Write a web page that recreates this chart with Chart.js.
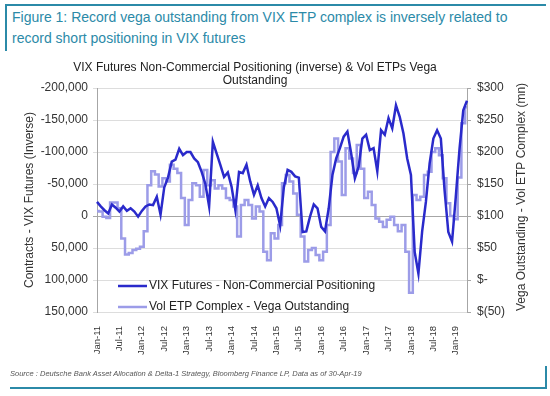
<!DOCTYPE html>
<html>
<head>
<meta charset="utf-8">
<script src="https://cdn.jsdelivr.net/npm/chart.js@4.4.1/dist/chart.umd.min.js"></script>
<style>
  body { margin: 0; background: #fff; font-family: "Liberation Sans", Arial, sans-serif; }
  #page { position: relative; width: 550px; height: 396px; overflow: hidden; }
  #c { position: absolute; left: 0; top: 0; }
  .teal { position: absolute; background: #2b8aa8; }
  .caption { position: absolute; left: 12px; top: 7px; color: #2b8aa8; font-size: 14px; line-height: 21px; }
  .source { position: absolute; left: 10px; top: 369px; color: #555; font-size: 7.5px; font-style: italic; }
</style>
</head>
<body>
<div id="page">
  <div class="teal" style="left:5px;top:4px;width:541px;height:2px"></div>
  <div class="teal" style="left:5px;top:4px;width:2px;height:47px"></div>
  <div class="caption">Figure 1: Record vega outstanding from VIX ETP complex is inversely related to<br>record short positioning in VIX futures</div>
  <canvas id="c" width="550" height="396"></canvas>
  <div class="source">Source : Deutsche Bank Asset Allocation &amp; Delta-1 Strategy, Bloomberg Finance LP, Data as of 30-Apr-19</div>
  <div class="teal" style="left:10px;top:387px;width:537px;height:2px"></div>
  <div class="teal" style="left:545px;top:366px;width:2px;height:23px"></div>
</div>
<script>
// monthly points, Jan-11 .. Apr-19
const monthNames = ['Jan', 'Feb', 'Mar', 'Apr', 'May', 'Jun', 'Jul', 'Aug', 'Sep', 'Oct', 'Nov', 'Dec'];
const years = ['11', '12', '13', '14', '15', '16', '17', '18', '19'];
const lastMonth = 3; // Apr-19

const labels = [];
years.forEach((yy, yi) => {
  monthNames.forEach((mm, mi) => {
    if (yi === years.length - 1 && mi > lastMonth) return;
    labels.push(mm + '-' + yy);
  });
});

// VIX futures non-commercial net positioning (contracts, shown inverted)
const vixPositioning = [
  -22000, -15000, -9000, -4000, -18000, -13000, -7000, -15000, -8000, -12000, -7000, 1000,
  -8000, -15000, -18000, -17000, -30000, -2000, -45000, -60000, -85000, -88000, -105000, -95000,
  -100000, -100000, -90000, -84000, -69000, -50000, -15000, -116000, -98000, -80000, -61000, -68000,
  -46000, -10000, -69000, -67000, -80000, -54000, -33000, -48000, -28000, -15000, -28000, -22000,
  -12000, 15000, -45000, -72000, -69000, -62000, -60000, 25000, 24000, 1000, -18000, -12000,
  17000, 24000, -12000, -64000, -90000, -106000, -124000, -132000, -98000, -59000, -77000, -121000,
  -127000, -103000, -106000, -70000, -134000, -127000, -153000, -137000, -173000, -155000, -129000, -90000,
  -64000, 56000, 90000, 24000, -22000, -82000, -121000, -134000, -121000, -40000, 25000, 40000,
  -30000, -105000, -165000, -180000
];

// Vol ETP complex vega outstanding ($mn)
const etpVega = [
  108, 107, 99, 97, 121, 121, 112, 65, 40, 42, 47, 49,
  52, 76, 148, 170, 165, 146, 159, 154, 180, 174, 167, 128,
  86, 125, 151, 148, 130, 172, 148, 156, 143, 148, 143, 128,
  125, 115, 68, 117, 125, 117, 96, 115, 107, 44, 31, 73,
  65, 86, 151, 164, 154, 135, 102, 68, 29, 47, 50, 39,
  31, 44, 86, 200, 221, 185, 133, 206, 190, 167, 211, 174,
  128, 138, 117, 96, 91, 83, 94, 99, 86, 76, 86, 44,
  -20, 133, 125, 130, 164, 169, 200, 206, 195, 159, 120, 100,
  95, 160, 245, 270
];

const seriesNames = ['VIX Futures - Non-Commercial Positioning', 'Vol ETP Complex - Vega Outstanding'];
const leftTicks = { min: -200000, max: 150000, step: 50000 };
const rightTicks = { min: -50, max: 300, step: 50 };
const chartTitle = ['VIX Futures Non-Commercial Positioning (inverse) & Vol ETPs Vega', 'Outstanding'];
const rightTitle = 'Vega Outstanding - Vol ETP Complex (mn)';

const FONT = '"Liberation Sans", Arial, sans-serif';
Chart.defaults.font.family = FONT;
Chart.defaults.color = '#333';

// title (centred on the whole figure, not the plot), legend inside the plot,
// and the right axis title reading upwards
const extras = {
  id: 'extras',
  afterDatasetsDraw(chart) {
    const { ctx, chartArea } = chart;
    ctx.save();
    ctx.font = '12px ' + FONT;
    ctx.textBaseline = 'middle';

    ctx.textAlign = 'center';
    ctx.fillStyle = '#222';
    chartTitle.forEach((line, i) => {
      ctx.fillText(line, chart.width / 2 - 20, chartArea.top - 20 + i * 13);
    });

    ctx.textAlign = 'left';
    chart.data.datasets.forEach((ds, i) => {
      const x = chartArea.left + 21;
      const y = chartArea.bottom - 26 + i * 21;
      ctx.strokeStyle = ds.borderColor;
      ctx.lineWidth = ds.borderWidth;
      ctx.beginPath();
      ctx.moveTo(x, y);
      ctx.lineTo(x + 29, y);
      ctx.stroke();
      ctx.fillStyle = '#222';
      ctx.fillText(ds.label, x + 31, y);
    });

    const r = chart.scales.y1;
    ctx.translate(r.right - 8, (chartArea.top + chartArea.bottom) / 2 - 3);
    ctx.rotate(-Math.PI / 2);
    ctx.textAlign = 'center';
    ctx.fillStyle = '#333';
    ctx.fillText(rightTitle, 0, 0);
    ctx.restore();
  }
};

const config = {
  type: 'line',
  data: {
    labels: labels,
    datasets: [
      {
        label: seriesNames[0],
        data: vixPositioning,
        yAxisID: 'y',
        borderColor: '#2a2acb',
        borderWidth: 2.5,
        pointRadius: 0,
        tension: 0
      },
      {
        label: seriesNames[1],
        data: etpVega,
        yAxisID: 'y1',
        borderColor: '#9c9ce8',
        borderWidth: 2.5,
        pointRadius: 0,
        stepped: 'middle'
      }
    ]
  },
  options: {
    responsive: false,
    animation: false,
    layout: { padding: { top: 88, left: 22, right: 20, bottom: 34 } },
    plugins: {
      legend: { display: false },
      tooltip: { enabled: false },
      title: { display: false }
    },
    scales: {
      x: {
        grid: { display: false },
        border: { display: false },
        ticks: {
          autoSkip: false,
          minRotation: 90,
          maxRotation: 90,
          padding: 6,
          font: { size: 9.5 },
          color: '#333',
          callback: (v, i) => (i % 6 === 0 ? labels[i] : null)
        },
        afterFit: (s) => { s.height = 50; }
      },
      y: {
        position: 'left',
        reverse: true,
        min: leftTicks.min,
        max: leftTicks.max,
        ticks: {
          stepSize: leftTicks.step,
          font: { size: 12 },
          color: '#333',
          padding: 5,
          callback: (v) => v.toLocaleString('en-US')
        },
        grid: {
          color: (c) => (c.tick && c.tick.value === 0 ? '#a6a6a6' : '#dddddd'),
          tickLength: 4
        },
        border: { color: '#a6a6a6' },
        title: {
          display: true,
          text: 'Contracts - VIX Futures (Inverse)',
          font: { size: 12 },
          color: '#333',
          padding: 0
        },
        afterFit: (s) => { s.width = 75; }
      },
      y1: {
        position: 'right',
        min: rightTicks.min,
        max: rightTicks.max,
        ticks: {
          stepSize: rightTicks.step,
          font: { size: 12 },
          color: '#333',
          padding: 6,
          callback: (v) => (v > 0 ? '$' + v : v === 0 ? '$-' : '$(' + (-v) + ')')
        },
        grid: { drawOnChartArea: false, color: '#a6a6a6', tickLength: 4 },
        border: { color: '#a6a6a6' },
        afterFit: (s) => { s.width = 63; }
      }
    }
  },
  plugins: [extras]
};

window.onload = function () {
  const ctx = document.getElementById('c').getContext('2d');
  new Chart(ctx, config);
};
</script>
</body>
</html>
